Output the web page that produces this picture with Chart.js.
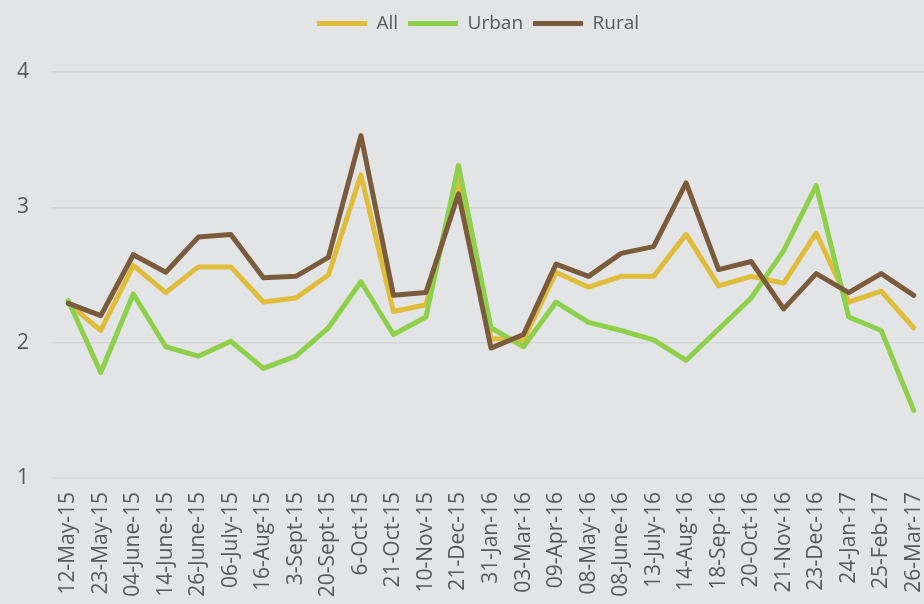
<!DOCTYPE html>
<html>
<head>
<meta charset="utf-8">
<script src="https://cdn.jsdelivr.net/npm/chart.js@4"></script>
<style>
  html, body { margin: 0; padding: 0; background: #e3e4e6; overflow: hidden; }
  #wrap { width: 930px; height: 604px; }
</style>
</head>
<body>
<div id="wrap"><canvas id="chart"></canvas></div>
<script>
const labels = ["12-May-15", "23-May-15", "04-June-15", "14-June-15", "26-June-15", "06-July-15",
  "16-Aug-15", "3-Sept-15", "20-Sept-15", "6-Oct-15", "21-Oct-15", "10-Nov-15", "21-Dec-15",
  "31-Jan-16", "03-Mar-16", "09-Apr-16", "08-May-16", "08-June-16", "13-July-16", "14-Aug-16",
  "18-Sep-16", "20-Oct-16", "21-Nov-16", "23-Dec-16", "24-Jan-17", "25-Feb-17", "26-Mar-17"];

const allValues = [2.29, 2.09, 2.57, 2.37, 2.56, 2.56, 2.30, 2.33, 2.50, 3.24, 2.23, 2.28, 3.19,
  2.03, 2.02, 2.52, 2.41, 2.49, 2.49, 2.80, 2.42, 2.49, 2.44, 2.81, 2.30, 2.38, 2.11];
const urbanValues = [2.31, 1.78, 2.36, 1.97, 1.90, 2.01, 1.81, 1.90, 2.11, 2.45, 2.06, 2.19, 3.31,
  2.11, 1.97, 2.30, 2.15, 2.09, 2.02, 1.87, 2.10, 2.33, 2.68, 3.16, 2.19, 2.09, 1.50];
const ruralValues = [2.29, 2.20, 2.65, 2.52, 2.78, 2.80, 2.48, 2.49, 2.63, 3.53, 2.35, 2.37, 3.10,
  1.96, 2.06, 2.58, 2.49, 2.66, 2.71, 3.18, 2.54, 2.60, 2.25, 2.51, 2.37, 2.51, 2.35];

const yTicks = [1, 2, 3, 4];

// legend sits in its own band above the plot, nudged a bit right
const legendSpace = {
  id: "legendSpace",
  beforeInit(chart) {
    const legend = chart.legend;
    const fit = legend.fit;
    legend.fit = function () {
      fit.bind(legend)();
      this.height += 29;
    };
    const draw = legend.draw;
    legend.draw = function () {
      this.ctx.save();
      this.ctx.translate(13, 0);
      draw.call(legend);
      this.ctx.restore();
    };
  }
};

function line(label, data, color, order) {
  return {
    label: label,
    data: data,
    borderColor: color,
    backgroundColor: color,
    borderWidth: 5,
    borderCapStyle: "round",
    borderJoinStyle: "round",
    pointRadius: 0,
    pointHoverRadius: 0,
    pointStyle: "line",
    tension: 0,
    order: order
  };
}

new Chart(document.getElementById("chart"), {
  type: "line",
  data: {
    labels: labels,
    datasets: [
      line("All", allValues, "#dfbd3b", 3),
      line("Urban", urbanValues, "#8ed04b", 2),
      line("Rural", ruralValues, "#7a5b3b", 1)
    ]
  },
  options: {
    responsive: true,
    maintainAspectRatio: false,
    animation: false,
    layout: { padding: { top: 4, right: 0, left: 0, bottom: 0 } },
    scales: {
      x: {
        offset: true,
        grid: { display: false },
        border: { display: false },
        ticks: {
          color: "#595959",
          font: { family: "Open Sans", size: 21 },
          maxRotation: 90,
          minRotation: 90,
          autoSkip: false,
          padding: 6
        },
        afterFit(scale) {
          scale.height = 126;
          scale.paddingLeft = 0;
          scale.paddingRight = 0;
        }
      },
      y: {
        min: 1,
        max: 4,
        afterBuildTicks(scale) { scale.ticks = yTicks.map(v => ({ value: v })); },
        grid: { color: "#d5d6d8", lineWidth: 1.5, drawTicks: false },
        border: { display: false },
        ticks: {
          color: "#595959",
          font: { family: "Open Sans", size: 21 },
          padding: 23
        },
        afterFit(scale) { scale.width = 52; }
      }
    },
    plugins: {
      legend: {
        display: true,
        position: "top",
        labels: {
          usePointStyle: true,
          pointStyle: "line",
          pointStyleWidth: 50,
          color: "#595959",
          font: { family: "Open Sans", size: 19 },
          padding: 10,
          sort: (a, b) => a.datasetIndex - b.datasetIndex
        }
      },
      tooltip: { enabled: false }
    }
  },
  plugins: [legendSpace]
});
</script>
</body>
</html>
